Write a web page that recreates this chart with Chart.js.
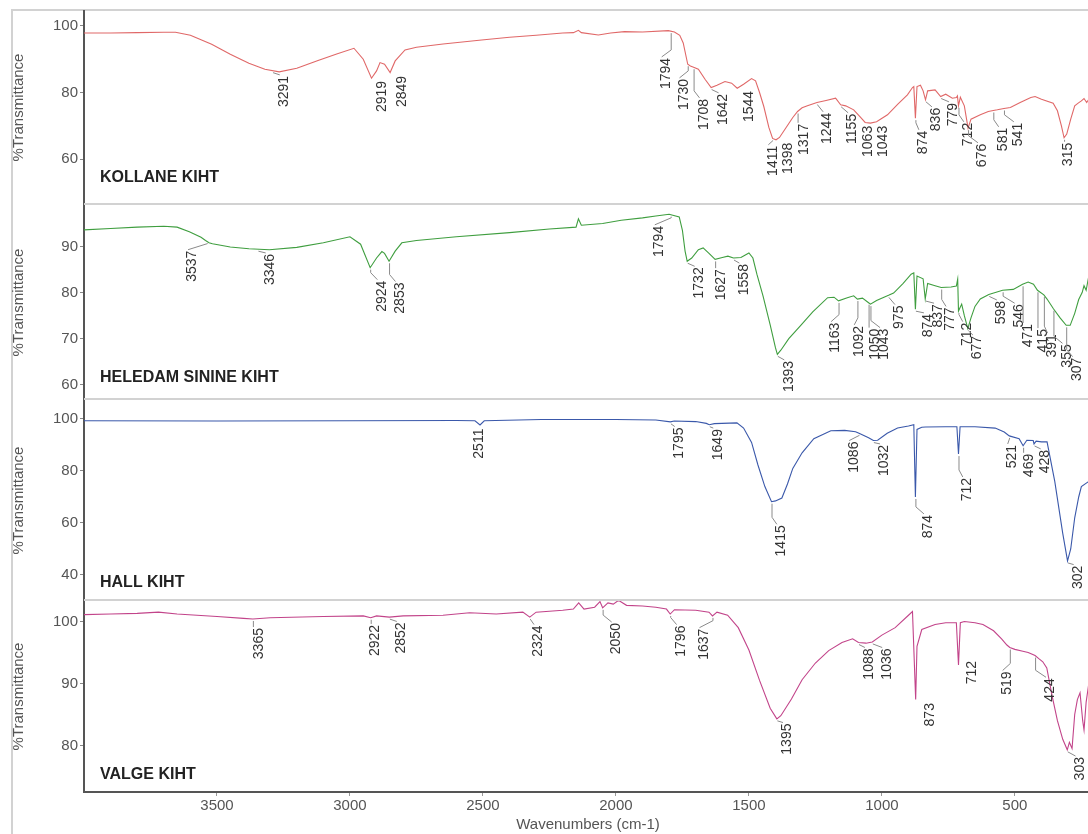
<!DOCTYPE html>
<html><head><meta charset="utf-8">
<script src="https://cdn.jsdelivr.net/npm/chart.js@4/dist/chart.umd.min.js"></script>
<style>
html,body{margin:0;padding:0;background:#fff;overflow:hidden;width:1088px;height:834px;}
#frame{position:absolute;left:11px;top:9px;width:1200px;height:900px;border-left:2px solid #d2d2d2;border-top:2px solid #d2d2d2;}
canvas{position:absolute;left:0;}
</style></head><body>
<div id="frame"></div>
<canvas id="c1" width="1094" height="195" style="top:10px"></canvas>
<canvas id="c2" width="1094" height="195" style="top:205px"></canvas>
<canvas id="c3" width="1094" height="201" style="top:400px"></canvas>
<canvas id="c4" width="1094" height="233" style="top:601px"></canvas>
<script>
// ---------- DATA ----------
const panelNames = ['KOLLANE KIHT', 'HELEDAM SININE KIHT', 'HALL KIHT', 'VALGE KIHT'];
const xTicks = [3500, 3000, 2500, 2000, 1500, 1000, 500];
const yTicks1 = [60, 80, 100];
const yTicks2 = [60, 70, 80, 90];
const yTicks3 = [40, 60, 80, 100];
const yTicks4 = [80, 90, 100];

// Panel 1 (KOLLANE KIHT) wavenumbers and %T
const wn1 = [4000,3900,3800,3700,3656,3600,3520,3450,3380,3320,3266,3200,3120,3050,2985,2950,2919,2900,2887,2870,2849,2830,2793,2750,2650,2505,2400,2300,2200,2160,2141,2130,2066,2020,1968,1900,1803,1780,1760,1747,1730,1720,1708,1690,1665,1642,1620,1590,1565,1544,1520,1490,1475,1460,1444,1425,1411,1398,1385,1360,1335,1317,1300,1280,1244,1210,1174,1155,1136,1106,1080,1063,1043,1020,979,940,904,885,880,874,868,855,845,836,828,800,779,760,735,720,716,712,705,690,676,665,630,600,581,566,541,517,480,440,424,400,356,340,325,315,305,290,275,262,250,240,230,222];
const t1  = [97.9,97.9,98.0,98.1,98.1,97.2,94.5,91.5,88.8,87.0,86.2,87.3,89.6,91.6,93.3,90.0,84.3,86.5,89.0,88.5,86.0,89.5,92.8,93.6,94.6,95.8,96.6,97.2,97.9,98.0,98.7,98.0,97.3,97.9,98.3,98.2,98.6,98.2,97.2,94.9,88.5,88.0,87.6,87.0,84.0,81.5,82.2,83.3,82.8,81.3,82.5,84.2,83.5,80.0,75.8,69.5,66.2,65.8,66.5,69.5,72.5,74.3,75.4,76.0,77.0,77.6,78.3,76.3,76.0,74.8,72.5,71.0,70.8,71.2,73.3,76.5,79.3,81.5,81.8,72.3,81.8,82.2,80.5,77.8,80.5,80.8,78.8,79.5,78.3,78.5,79.0,76.0,78.6,76.0,69.3,72.0,73.3,74.3,74.6,74.8,75.2,75.5,77.0,78.5,78.8,78.0,76.8,74.5,70.0,66.4,67.5,72.0,76.0,76.8,77.5,78.2,77.0,78.0];

// Panel 2 (HELEDAM SININE KIHT)
const wn2 = [4000,3900,3800,3700,3650,3604,3560,3543,3530,3517,3450,3380,3303,3200,3100,3000,2960,2924,2900,2880,2870,2853,2830,2805,2750,2600,2400,2250,2150,2141,2130,2050,1980,1900,1850,1800,1762,1750,1740,1732,1715,1690,1672,1650,1627,1600,1579,1558,1530,1500,1485,1470,1447,1420,1400,1393,1380,1350,1305,1260,1204,1180,1163,1130,1106,1092,1073,1050,1043,1020,975,956,920,890,880,874,868,845,837,828,800,777,740,720,715,712,700,690,677,665,650,630,598,546,506,471,450,430,415,391,379,355,330,307,292,275,260,247,240,232,222];
const t2  = [93.6,93.9,94.2,94.4,94.2,93.2,92.0,91.3,90.8,90.6,89.9,89.5,89.3,89.8,90.8,92.1,90.5,85.4,87.5,88.9,88.5,86.8,89.0,90.8,91.3,92.1,93.0,93.8,94.2,96.0,94.6,95.0,95.7,96.2,96.6,97.0,96.4,93.5,89.0,86.8,87.5,89.3,89.7,88.5,87.2,87.6,87.9,87.5,87.6,88.6,87.5,84.0,79.3,73.0,68.0,66.6,67.5,70.0,72.9,75.8,78.9,79.0,78.2,78.9,79.3,78.6,78.8,77.8,77.5,78.3,79.4,79.9,82.0,84.0,84.3,76.4,83.6,83.0,78.6,82.0,81.5,81.1,81.2,81.4,82.9,76.0,77.5,75.0,72.2,74.5,77.0,78.6,79.6,80.5,80.7,81.8,82.3,81.8,80.5,79.5,78.6,76.5,74.5,72.9,72.9,75.5,78.5,80.0,81.5,80.5,83.6];

// Panel 3 (HALL KIHT)
const wn3 = [4000,3500,3000,2600,2530,2511,2495,2280,2000,1850,1795,1781,1700,1660,1649,1630,1545,1520,1490,1466,1440,1415,1400,1376,1355,1335,1300,1256,1192,1140,1099,1086,1050,1032,1016,980,941,900,880,874,868,850,836,760,718,712,706,650,574,540,521,484,469,455,431,428,420,400,379,350,320,302,290,275,260,250,222];
const t3  = [99.3,99.2,99.3,99.4,99.3,97.7,99.3,99.8,99.8,99.6,98.9,99.2,99.0,98.3,97.8,98.2,98.5,96.5,91.0,82.3,74.0,68.2,68.5,69.6,75.0,81.0,87.0,92.4,95.5,95.6,95.1,94.5,92.8,91.7,91.8,94.5,96.5,97.3,97.8,70.0,96.0,96.8,96.9,97.0,97.0,86.5,97.0,97.0,96.5,95.0,93.5,92.4,89.7,91.8,91.7,90.4,91.5,91.2,91.2,76.0,56.0,45.4,50.0,62.0,70.0,74.0,76.0];

// Panel 4 (VALGE KIHT)
const wn4 = [4000,3900,3800,3720,3650,3500,3400,3365,3300,3100,2950,2922,2900,2852,2800,2650,2550,2450,2350,2324,2300,2200,2160,2140,2120,2080,2060,2050,2030,2010,1990,1960,1900,1850,1810,1796,1780,1700,1650,1637,1620,1580,1540,1500,1460,1420,1395,1380,1340,1300,1250,1200,1150,1110,1088,1060,1036,1000,950,900,885,873,868,850,800,760,720,712,705,690,650,620,580,550,530,519,500,470,450,424,410,395,380,360,340,320,303,295,285,275,265,255,245,240,232,222];
const t4  = [101.1,101.2,101.3,101.5,101.2,100.8,100.5,100.4,100.6,100.8,100.9,100.6,100.9,100.7,100.9,101.0,101.4,101.2,101.5,100.7,101.5,101.8,102.0,103.0,102.0,102.3,103.2,102.2,103.0,102.8,103.4,102.6,102.5,102.3,102.0,101.2,101.9,101.8,101.5,100.9,101.5,101.0,99.0,95.4,90.5,86.0,84.3,84.8,87.5,90.6,93.3,95.3,96.6,97.2,96.6,96.5,96.7,97.8,99.0,101.0,101.6,87.4,96.0,98.7,99.5,99.8,99.8,93.0,99.8,100.0,99.8,99.5,98.5,97.2,96.2,95.8,95.5,95.2,95.0,94.5,94.0,93.5,92.5,88.0,84.0,81.0,79.3,80.5,79.5,85.0,87.4,88.5,84.0,82.5,87.0,90.0];

// Peak annotations: [peak wavenumber, wavenumber of text centre, %T where text begins]
const peaks1 = [[3291,3247,85.3],[2919,2880,83.8],[2849,2805,85.3],[1794,1811,90.7],[1730,1744,84.4],[1708,1669,78.4],[1642,1597,79.9],[1544,1500,80.8],[1411,1410,64.3],[1398,1354,65.2],[1317,1294,70.9],[1244,1204,74.2],[1155,1110,73.9],[1063,1050,70.3],[1043,994,70.3],[874,844,68.8],[836,795,75.7],[779,731,77.2],[712,675,71.2],[676,622,64.9],[581,544,69.7],[541,487,71.2],[315,300,65.2]];
const peaks2 = [[3537,3592,89.3],[3346,3300,88.6],[2924,2880,82.8],[2853,2812,82.4],[1794,1837,94.7],[1732,1687,85.7],[1627,1605,85.3],[1558,1519,86.4],[1393,1350,65.4],[1163,1174,73.7],[1092,1087,73.0],[1050,1024,72.4],[1043,990,72.4],[975,934,77.4],[874,825,75.6],[837,787,77.7],[777,742,77.0],[712,679,73.7],[677,641,70.8],[598,551,78.4],[546,484,77.7],[471,450,73.4],[415,394,72.3],[391,360,71.2],[355,304,69.0],[307,266,66.1]];
const peaks3 = [[2511,2516,96.7],[1795,1762,97.1],[1649,1617,96.5],[1415,1378,59.5],[1086,1106,91.7],[1032,990,90.4],[874,825,63.5],[712,679,77.7],[521,510,90.4],[469,446,87.0],[428,386,88.5],[302,262,44.0]];
const peaks4 = [[3365,3343,99.1],[2922,2904,99.6],[2852,2807,100.0],[2324,2291,99.5],[2050,1999,99.9],[1796,1755,99.5],[1637,1669,99.0],[1395,1355,83.7],[1088,1047,95.8],[1036,982,95.8],[873,817,87.0],[712,661,93.8],[519,529,92.1],[424,366,91.0],[303,255,78.3]];

// Panel-name text vertical position in %T units
const nameLevels = [54.4, 61.5, 37.0, 75.3];

// ---------- RENDERING ----------
const FONT = '"Liberation Sans", Arial, Helvetica, sans-serif';
const X_MIN = 210, X_MAX = 4000;

function interp(wn, t, w) {
  for (let i = 0; i < wn.length - 1; i++) {
    const a = wn[i], b = wn[i + 1];
    if ((w <= a && w >= b)) {
      const f = (a - w) / (a - b);
      return t[i] + f * (t[i + 1] - t[i]);
    }
  }
  return t[t.length - 1];
}

const decoPlugin = {
  id: 'deco',
  afterDatasetsDraw(chart, args, o) {
    const ctx = chart.ctx, ca = chart.chartArea;
    const xs = chart.scales.x, ys = chart.scales.y;
    ctx.save();
    if (o.separator) {
      ctx.strokeStyle = '#d2d2d2'; ctx.lineWidth = 2;
      ctx.beginPath(); ctx.moveTo(ca.left, ca.bottom - 1); ctx.lineTo(chart.width, ca.bottom - 1); ctx.stroke();
    }
    ctx.fillStyle = '#222';
    ctx.font = 'bold 16px ' + FONT;
    ctx.textAlign = 'left'; ctx.textBaseline = 'middle';
    ctx.fillText(o.name, ca.left + 16, ys.getPixelForValue(o.nameLevel));
    ctx.font = '14px ' + FONT;
    for (const [pk, lx, lv] of o.peaks) {
      const px = xs.getPixelForValue(pk);
      const cy = ys.getPixelForValue(interp(o.wn, o.t, pk));
      const cx = xs.getPixelForValue(lx);
      const ty = ys.getPixelForValue(lv);
      const tl = cx - 5;
      if (ty - cy > 3) {
        ctx.strokeStyle = '#8a8a8a'; ctx.lineWidth = 1;
        ctx.beginPath();
        ctx.moveTo(px + 0.5, cy + 2);
        if (Math.abs(tl - px) < 2) {
          ctx.lineTo(px + 0.5, ty);
        } else {
          const mid = Math.max(cy + 2, ty - 7);
          ctx.lineTo(px + 0.5, mid);
          ctx.lineTo(tl + 0.5, ty);
        }
        ctx.stroke();
      }
      ctx.save();
      ctx.translate(cx, ty + 1);
      ctx.rotate(-Math.PI / 2);
      ctx.fillStyle = '#333';
      ctx.textAlign = 'right'; ctx.textBaseline = 'middle';
      ctx.fillText(String(pk), 0, 0);
      ctx.restore();
    }
    ctx.restore();
  }
};

function noPad(s) { s.paddingTop = 0; s.paddingBottom = 0; s.paddingLeft = 0; s.paddingRight = 0; }

function makeChart(id, wn, t, color, yMin, yMax, yTicks, idx, peaks, showX) {
  return new Chart(document.getElementById(id), {
    type: 'line',
    data: { datasets: [{ data: wn.map((w, i) => ({ x: w, y: t[i] })), borderColor: color, borderWidth: 1.1,
      pointRadius: 0, tension: 0, fill: false }] },
    options: {
      responsive: false, animation: false, events: [],
      layout: { padding: { left: 0, right: 2, top: 0, bottom: 0 } },
      plugins: {
        legend: { display: false }, tooltip: { enabled: false },
        deco: { name: panelNames[idx], nameLevel: nameLevels[idx], peaks: peaks, wn: wn, t: t, separator: !showX }
      },
      scales: {
        x: {
          type: 'linear', reverse: true, min: X_MIN, max: X_MAX, display: showX,
          afterBuildTicks: s => { s.ticks = xTicks.map(v => ({ value: v })); },
          afterFit: s => { noPad(s); if (showX) s.height = 42; },
          grid: { display: true, drawOnChartArea: false, tickLength: 4, color: '#999' },
          border: { display: true, color: '#555', width: 2 },
          ticks: { font: { family: FONT, size: 15 }, color: '#555', padding: 1, maxRotation: 0, autoSkip: false,
                   callback: v => String(v) },
          title: { display: true, text: 'Wavenumbers (cm-1)', font: { family: FONT, size: 15 }, color: '#555', padding: 0 }
        },
        y: {
          min: yMin, max: yMax,
          afterBuildTicks: s => { s.ticks = yTicks.map(v => ({ value: v })); },
          afterFit: s => { noPad(s); s.width = 84; },
          grid: { display: true, drawOnChartArea: false, tickLength: 4, color: '#888' },
          border: { display: true, color: '#555', width: 2 },
          ticks: { font: { family: FONT, size: 15 }, color: '#555', padding: 2, callback: v => String(v) },
          title: { display: true, text: '%Transmittance', font: { family: FONT, size: 15 }, color: '#555', padding: { top: 10, bottom: 0 } }
        }
      }
    },
    plugins: [decoPlugin]
  });
}

makeChart('c1', wn1, t1, '#e06868', 46.2, 104.8, yTicks1, 0, peaks1, false);
makeChart('c2', wn2, t2, '#3f9e3f', 56.7, 99.0, yTicks2, 1, peaks2, false);
makeChart('c3', wn3, t3, '#3a58aa', 30, 107.3, yTicks3, 2, peaks3, false);
makeChart('c4', wn4, t4, '#c2448a', 72.5, 103.3, yTicks4, 3, peaks4, true);
</script>
</body></html>
